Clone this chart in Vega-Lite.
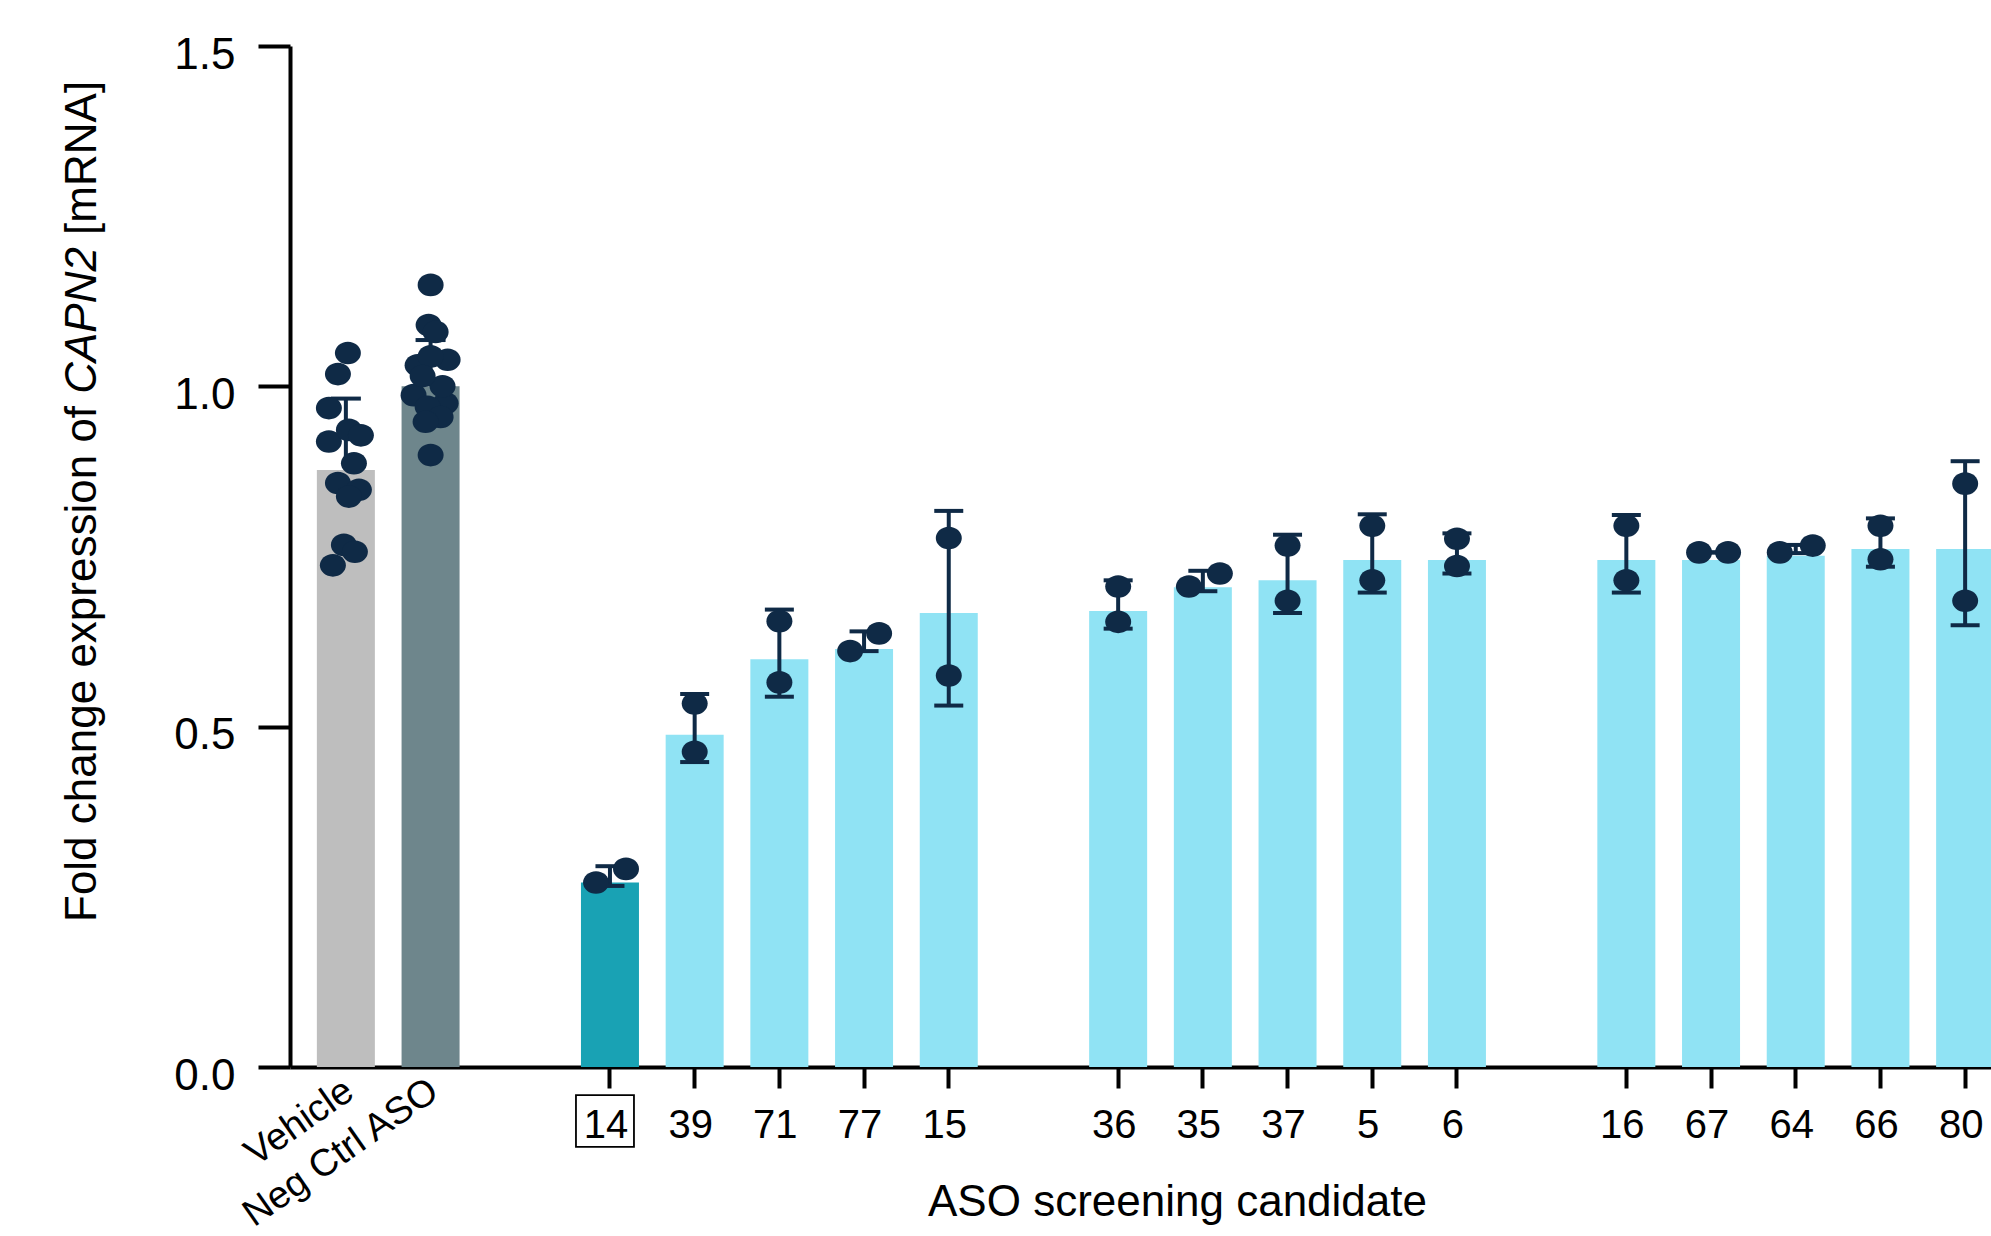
{
  "$schema": "https://vega.github.io/schema/vega-lite/v6.json",
  "width": 1701,
  "height": 1021,
  "autosize": {"type": "none"},
  "padding": {"left": 290, "top": 46, "right": 0, "bottom": 169},
  "background": "white",
  "config": {
    "view": {"stroke": null},
    "font": "Liberation Sans",
    "axis": {
      "labelFont": "Liberation Sans",
      "titleFont": "Liberation Sans",
      "labelColor": "black",
      "titleColor": "black",
      "domainColor": "black",
      "tickColor": "black",
      "grid": false,
      "titleFontWeight": "normal"
    }
  },
  "datasets": {
    "bars": [
      {"cond": "Vehicle", "kind": "vehicle", "grp": "ctrl", "mean": 0.877, "lo": 0.877, "hi": 0.982},
      {"cond": "Neg Ctrl ASO", "kind": "negctrl", "grp": "ctrl", "mean": 1.0, "lo": 1.0, "hi": 1.068},
      {"cond": "14", "kind": "lead", "grp": "cand", "mean": 0.271, "lo": 0.266, "hi": 0.295},
      {"cond": "39", "kind": "screen", "grp": "cand", "mean": 0.488, "lo": 0.448, "hi": 0.548},
      {"cond": "71", "kind": "screen", "grp": "cand", "mean": 0.599, "lo": 0.544, "hi": 0.672},
      {"cond": "77", "kind": "screen", "grp": "cand", "mean": 0.614, "lo": 0.611, "hi": 0.640},
      {"cond": "15", "kind": "screen", "grp": "cand", "mean": 0.667, "lo": 0.531, "hi": 0.817},
      {"cond": "36", "kind": "screen", "grp": "cand", "mean": 0.670, "lo": 0.644, "hi": 0.715},
      {"cond": "35", "kind": "screen", "grp": "cand", "mean": 0.705, "lo": 0.699, "hi": 0.729},
      {"cond": "37", "kind": "screen", "grp": "cand", "mean": 0.715, "lo": 0.667, "hi": 0.782},
      {"cond": "5", "kind": "screen", "grp": "cand", "mean": 0.745, "lo": 0.697, "hi": 0.812},
      {"cond": "6", "kind": "screen", "grp": "cand", "mean": 0.745, "lo": 0.725, "hi": 0.784},
      {"cond": "16", "kind": "screen", "grp": "cand", "mean": 0.745, "lo": 0.697, "hi": 0.811},
      {"cond": "67", "kind": "screen", "grp": "cand", "mean": 0.745, "lo": 0.756, "hi": 0.756},
      {"cond": "64", "kind": "screen", "grp": "cand", "mean": 0.751, "lo": 0.755, "hi": 0.767},
      {"cond": "66", "kind": "screen", "grp": "cand", "mean": 0.761, "lo": 0.735, "hi": 0.806},
      {"cond": "80", "kind": "screen", "grp": "cand", "mean": 0.761, "lo": 0.649, "hi": 0.890}
    ],
    "dots": [
      {"cond": "Vehicle", "value": 1.049, "jitter": -0.138},
      {"cond": "Vehicle", "value": 1.018, "jitter": -0.310},
      {"cond": "Vehicle", "value": 0.968, "jitter": -0.466},
      {"cond": "Vehicle", "value": 0.919, "jitter": -0.466},
      {"cond": "Vehicle", "value": 0.936, "jitter": -0.121},
      {"cond": "Vehicle", "value": 0.928, "jitter": 0.086},
      {"cond": "Vehicle", "value": 0.887, "jitter": -0.034},
      {"cond": "Vehicle", "value": 0.858, "jitter": -0.310},
      {"cond": "Vehicle", "value": 0.848, "jitter": 0.052},
      {"cond": "Vehicle", "value": 0.838, "jitter": -0.121},
      {"cond": "Vehicle", "value": 0.767, "jitter": -0.207},
      {"cond": "Vehicle", "value": 0.757, "jitter": -0.017},
      {"cond": "Vehicle", "value": 0.737, "jitter": -0.397},
      {"cond": "Neg Ctrl ASO", "value": 1.149, "jitter": -0.172},
      {"cond": "Neg Ctrl ASO", "value": 1.090, "jitter": -0.207},
      {"cond": "Neg Ctrl ASO", "value": 1.080, "jitter": -0.086},
      {"cond": "Neg Ctrl ASO", "value": 1.031, "jitter": -0.397},
      {"cond": "Neg Ctrl ASO", "value": 1.039, "jitter": 0.121},
      {"cond": "Neg Ctrl ASO", "value": 1.044, "jitter": -0.172},
      {"cond": "Neg Ctrl ASO", "value": 0.987, "jitter": -0.466},
      {"cond": "Neg Ctrl ASO", "value": 0.975, "jitter": 0.086},
      {"cond": "Neg Ctrl ASO", "value": 0.970, "jitter": -0.224},
      {"cond": "Neg Ctrl ASO", "value": 0.955, "jitter": 0.0},
      {"cond": "Neg Ctrl ASO", "value": 0.948, "jitter": -0.259},
      {"cond": "Neg Ctrl ASO", "value": 0.899, "jitter": -0.172},
      {"cond": "Neg Ctrl ASO", "value": 1.000, "jitter": 0.034},
      {"cond": "Neg Ctrl ASO", "value": 1.015, "jitter": -0.310},
      {"cond": "14", "value": 0.271, "jitter": -0.241},
      {"cond": "14", "value": 0.291, "jitter": 0.276},
      {"cond": "39", "value": 0.534, "jitter": 0},
      {"cond": "39", "value": 0.463, "jitter": 0},
      {"cond": "71", "value": 0.655, "jitter": 0},
      {"cond": "71", "value": 0.565, "jitter": 0},
      {"cond": "77", "value": 0.611, "jitter": -0.241},
      {"cond": "77", "value": 0.637, "jitter": 0.259},
      {"cond": "15", "value": 0.777, "jitter": 0},
      {"cond": "15", "value": 0.575, "jitter": 0},
      {"cond": "36", "value": 0.706, "jitter": 0},
      {"cond": "36", "value": 0.654, "jitter": 0},
      {"cond": "35", "value": 0.706, "jitter": -0.241},
      {"cond": "35", "value": 0.725, "jitter": 0.293},
      {"cond": "37", "value": 0.766, "jitter": 0},
      {"cond": "37", "value": 0.685, "jitter": 0},
      {"cond": "5", "value": 0.795, "jitter": 0},
      {"cond": "5", "value": 0.715, "jitter": 0},
      {"cond": "6", "value": 0.776, "jitter": 0},
      {"cond": "6", "value": 0.736, "jitter": 0},
      {"cond": "16", "value": 0.795, "jitter": 0},
      {"cond": "16", "value": 0.715, "jitter": 0},
      {"cond": "67", "value": 0.756, "jitter": -0.207},
      {"cond": "67", "value": 0.756, "jitter": 0.293},
      {"cond": "64", "value": 0.756, "jitter": -0.276},
      {"cond": "64", "value": 0.766, "jitter": 0.293},
      {"cond": "66", "value": 0.795, "jitter": 0},
      {"cond": "66", "value": 0.746, "jitter": 0},
      {"cond": "80", "value": 0.857, "jitter": 0},
      {"cond": "80", "value": 0.685, "jitter": 0}
    ]
  },
  "resolve": {"scale": {"y": "independent"}},
  "layer": [
    {
      "encoding": {
        "x": {
          "field": "cond",
          "type": "nominal",
          "sort": null,
          "scale": {
            "type": "band",
            "domain": ["Vehicle", "Neg Ctrl ASO", "gap1", "14", "39", "71", "77", "15", "gap2", "36", "35", "37", "5", "6", "gap3", "16", "67", "64", "66", "80"],
            "range": [0, 1741],
            "paddingInner": 0.316,
            "paddingOuter": 0.4357
          },
          "axis": {
            "values": ["14", "39", "71", "77", "15", "36", "35", "37", "5", "6", "16", "67", "64", "66", "80"],
            "title": "ASO screening candidate",
            "titleFontSize": 44,
            "titleX": 887,
            "titleY": 148,
            "titleAlign": "center",
            "titleBaseline": "alphabetic",
            "labelAngle": 0,
            "labelFontSize": 40,
            "labelPadding": 17,
            "labelOffset": -4,
            "tickSize": 21,
            "tickWidth": 4,
            "domainWidth": 4
          }
        }
      },
      "layer": [
        {
          "data": {"name": "bars"},
          "transform": [{"filter": "datum.grp == 'cand'"}],
          "mark": {"type": "bar", "width": 58},
          "encoding": {
            "y": {
              "field": "mean",
              "type": "quantitative",
              "scale": {"domain": [0, 1.5], "nice": false},
              "axis": {
                "values": [0, 0.5, 1, 1.5],
                "format": ".1f",
                "title": "Fold change expression of",
                "titleFontSize": 44,
                "titleX": -195,
                "titleY": 875.5,
                "titleAngle": -90,
                "titleAlign": "left",
                "titleBaseline": "alphabetic",
                "labelFontSize": 44,
                "labelPadding": 23,
                "labelOffset": 9,
                "tickSize": 32,
                "tickWidth": 4,
                "domainWidth": 4
              }
            },
            "color": {
              "field": "kind",
              "type": "nominal",
              "scale": {"domain": ["vehicle", "negctrl", "lead", "screen"], "range": ["#BEBEBE", "#6E868C", "#19A2B4", "#90E3F4"]},
              "legend": null
            }
          }
        },
        {
          "data": {"name": "bars"},
          "transform": [{"filter": "datum.grp == 'ctrl'"}],
          "mark": {"type": "bar", "width": 58, "xOffset": -10},
          "encoding": {
            "y": {"field": "mean", "type": "quantitative"},
            "color": {"field": "kind", "type": "nominal", "legend": null}
          }
        },
        {
          "data": {"name": "bars"},
          "transform": [{"filter": "datum.grp == 'cand'"}],
          "mark": {"type": "rule", "color": "#0F2A46", "strokeWidth": 4},
          "encoding": {
            "y": {"field": "lo", "type": "quantitative"},
            "y2": {"field": "hi"}
          }
        },
        {
          "data": {"name": "bars"},
          "transform": [{"filter": "datum.grp == 'cand'"}, {"fold": ["lo", "hi"], "as": ["end", "ev"]}],
          "mark": {"type": "tick", "color": "#0F2A46", "size": 29, "thickness": 4, "opacity": 1},
          "encoding": {
            "y": {"field": "ev", "type": "quantitative"}
          }
        },
        {
          "data": {"name": "bars"},
          "transform": [{"filter": "datum.grp == 'ctrl'"}],
          "mark": {"type": "rule", "color": "#0F2A46", "strokeWidth": 4, "xOffset": -10},
          "encoding": {
            "y": {"field": "mean", "type": "quantitative"},
            "y2": {"field": "hi"}
          }
        },
        {
          "data": {"name": "bars"},
          "transform": [{"filter": "datum.grp == 'ctrl'"}],
          "mark": {"type": "tick", "color": "#0F2A46", "size": 30, "thickness": 4, "opacity": 1, "xOffset": -10},
          "encoding": {
            "y": {"field": "hi", "type": "quantitative"}
          }
        },
        {
          "data": {"name": "dots"},
          "mark": {"type": "point", "filled": true, "opacity": 1, "color": "#0F2A46", "size": 676, "shape": "M-1,0A1,0.87,0,1,1,1,0A1,0.87,0,1,1,-1,0Z"},
          "encoding": {
            "y": {"field": "value", "type": "quantitative"},
            "xOffset": {"field": "jitter", "type": "quantitative", "scale": {"domain": [-0.5, 0.5], "range": [0, 58]}}
          }
        },
        {
          "data": {"values": [{"cond": "Vehicle"}, {"cond": "Neg Ctrl ASO"}]},
          "mark": {"type": "text", "angle": -35, "align": "right", "baseline": "top", "fontSize": 38, "color": "black", "xOffset": -17, "yOffset": 5},
          "encoding": {
            "y": {"datum": 0, "type": "quantitative"},
            "text": {"field": "cond"}
          }
        },
        {
          "data": {"values": [{"cond": "14"}]},
          "mark": {"type": "point", "filled": false, "stroke": "black", "strokeWidth": 1.8, "opacity": 1, "size": 3364, "shape": "M-1,-0.89H1V0.89H-1Z", "yOffset": 54, "xOffset": -5},
          "encoding": {
            "y": {"datum": 0, "type": "quantitative"}
          }
        }
      ]
    },
    {
      "data": {"values": [{"piece": "gene"}]},
      "mark": {"type": "text", "text": ""},
      "encoding": {
        "y": {
          "datum": 0,
          "type": "quantitative",
          "scale": {"domain": [0, 1.5]},
          "axis": {
            "orient": "left",
            "title": "CAPN2",
            "titleFontStyle": "italic",
            "titleFontSize": 44,
            "titleX": -195,
            "titleY": 347.3,
            "titleAngle": -90,
            "titleAlign": "left",
            "titleBaseline": "alphabetic",
            "domain": false,
            "ticks": false,
            "labels": false
          }
        }
      }
    },
    {
      "data": {"values": [{"piece": "unit"}]},
      "mark": {"type": "text", "text": ""},
      "encoding": {
        "y": {
          "datum": 0,
          "type": "quantitative",
          "scale": {"domain": [0, 1.5]},
          "axis": {
            "orient": "left",
            "title": "[mRNA]",
            "titleFontSize": 44,
            "titleX": -195,
            "titleY": 188.4,
            "titleAngle": -90,
            "titleAlign": "left",
            "titleBaseline": "alphabetic",
            "domain": false,
            "ticks": false,
            "labels": false
          }
        }
      }
    }
  ]
}
